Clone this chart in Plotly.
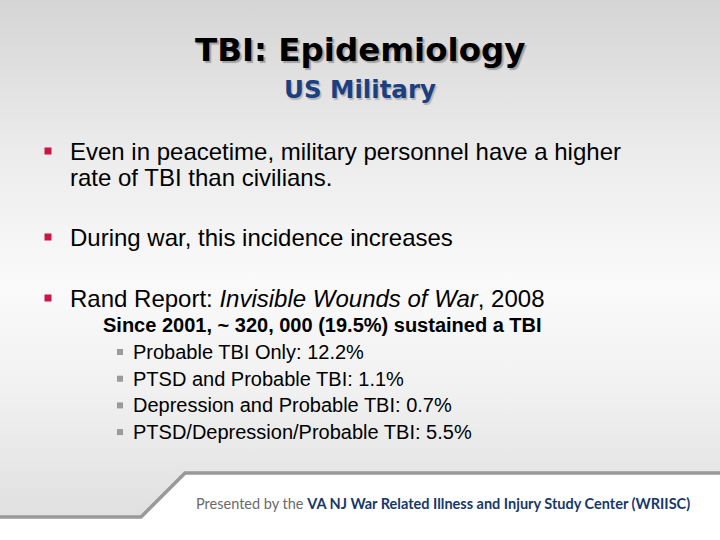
import plotly.graph_objects as go

# ---- slide content ----
title = "TBI: Epidemiology"
subtitle = "US Military"
main_bullets = [
    ["Even in peacetime, military personnel have a higher", "rate of TBI than civilians."],
    ["During war, this incidence increases"],
    ["Rand Report: <i>Invisible Wounds of War</i>, 2008"],
]
main_bullet_y = [151, 237, 298]
sub_heading = "Since 2001, ~ 320, 000 (19.5%) sustained a TBI"
sub_items = [
    "Probable TBI Only: 12.2%",
    "PTSD and Probable TBI: 1.1%",
    "Depression and Probable TBI: 0.7%",
    "PTSD/Depression/Probable TBI: 5.5%",
]
footer_lead = "Presented by the "
footer_org = "VA NJ War Related Illness and Injury Study Center (WRIISC)"

W, H = 720, 540
LINE = 26.3
SUB_LINE = 26.7

fig = go.Figure()

# gradient background above footer line
fig.add_trace(go.Scatter(
    x=[0, W, W, 185, 141, 0, 0], y=[0, 0, 473, 473, 517, 517, 0],
    mode="lines", line=dict(width=0), fill="toself",
    fillgradient=dict(type="vertical", start=0, stop=517,
                      colorscale=[[0, "#d5d5d5"], [0.3, "#ececec"], [0.55, "#fafafa"],
                                  [0.75, "#f1f1f1"], [1, "#e0e0e0"]]),
    hoverinfo="skip", showlegend=False))
# footer line
fig.add_trace(go.Scatter(
    x=[0, 141, 185, W], y=[517, 517, 473, 473], mode="lines",
    line=dict(color="#999999", width=3.5), hoverinfo="skip", showlegend=False))

ann = []
TF = "DejaVu Sans"
ann.append(dict(x=360, y=50, text="<b>" + title + "</b>", showarrow=False,
                xanchor="center", yanchor="middle",
                font=dict(family=TF, size=32.5, color="#000000",
                          shadow="2px 2px 1px #a0a0a0")))
ann.append(dict(x=360, y=89, text="<b>" + subtitle + "</b>", showarrow=False,
                xanchor="center", yanchor="middle",
                font=dict(family=TF, size=24.5, color="#1c3f82",
                          shadow="1.5px 1.5px 1px #b4b4b4")))

BF = "Liberation Sans, Arial"
bx, by = [], []
for lines, y0 in zip(main_bullets, main_bullet_y):
    bx.append(48)
    by.append(y0)
    for i, ln in enumerate(lines):
        ann.append(dict(x=68, y=y0 + i * LINE, text=ln, showarrow=False,
                        xanchor="left", yanchor="middle",
                        font=dict(family=BF, size=24, color="#000000")))

ann.append(dict(x=101, y=325, text="<b>" + sub_heading + "</b>", showarrow=False,
                xanchor="left", yanchor="middle",
                font=dict(family=BF, size=20, color="#000000")))
sx, sy = [], []
for i, it in enumerate(sub_items):
    y0 = 352 + i * SUB_LINE
    sx.append(120)
    sy.append(y0)
    ann.append(dict(x=131, y=y0, text=it, showarrow=False,
                    xanchor="left", yanchor="middle",
                    font=dict(family=BF, size=20, color="#000000")))

fig.add_trace(go.Scatter(x=bx, y=by, mode="markers",
                         marker=dict(symbol="square", size=7, color="#cc1445"),
                         hoverinfo="skip", showlegend=False))
fig.add_trace(go.Scatter(x=sx, y=sy, mode="markers",
                         marker=dict(symbol="square", size=6, color="#9a9a9a"),
                         hoverinfo="skip", showlegend=False))

ann.append(dict(x=443, y=503,
                text="<span style='color:#6a6a6a'>" + footer_lead + "</span><b>" + footer_org + "</b>",
                showarrow=False, xanchor="center", yanchor="middle",
                font=dict(family="Lato", size=14.5, color="#17386b")))

fig.update_layout(
    width=W, height=H, margin=dict(l=0, r=0, t=0, b=0),
    paper_bgcolor="#ffffff", plot_bgcolor="#ffffff",
    xaxis=dict(range=[0, W], visible=False, fixedrange=True),
    yaxis=dict(range=[H, 0], visible=False, fixedrange=True),
    annotations=ann, showlegend=False,
)
fig.write_html("out.html", config={"displayModeBar": False},
               post_script="document.body.style.margin='0';")
